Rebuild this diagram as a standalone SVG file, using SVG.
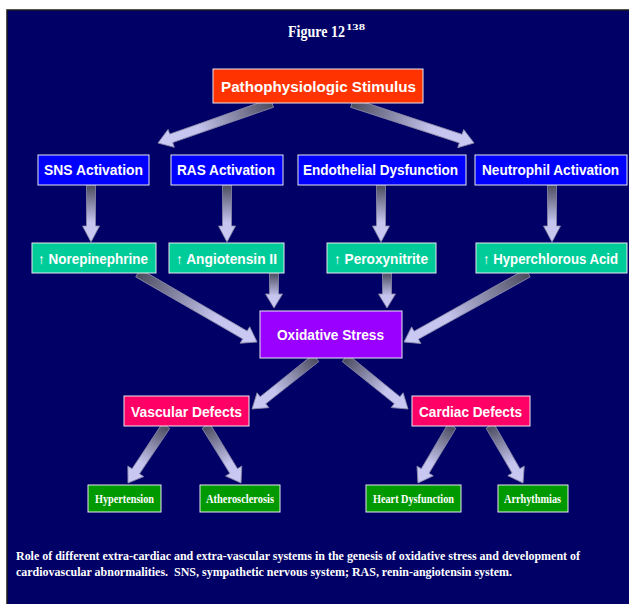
<svg xmlns="http://www.w3.org/2000/svg" width="629" height="604" viewBox="0 0 629 604">
<style>
.box{stroke:#e8e8f0;stroke-width:1}
.lbl{font-family:"Liberation Sans",Arial,sans-serif;font-weight:bold;font-size:14px;fill:#fff}
.slbl{font-family:"Liberation Serif","Times New Roman",serif;font-weight:bold;font-size:13px;fill:#fff}
.arr{fill:url(#ag);stroke:#8a8aa8;stroke-width:0.8}
</style>
<defs>
<linearGradient id="ag" x1="0" y1="0" x2="1" y2="0">
<stop offset="0" stop-color="#4a4a5e"/>
<stop offset="0.65" stop-color="#c4c4ee"/>
<stop offset="1" stop-color="#cacaf4"/>
</linearGradient>
</defs>
<rect x="0" y="0" width="629" height="604" fill="#fff"/>
<rect x="7" y="10" width="623" height="596" fill="#000066" stroke="#1a1a1a" stroke-width="1.5"/>
<text x="288" y="37" font-family="Liberation Serif,'Times New Roman',serif" font-weight="bold" font-size="17" fill="#fff"><tspan textLength="57" lengthAdjust="spacingAndGlyphs">Figure 12</tspan><tspan x="346" y="30" font-size="9" textLength="19" lengthAdjust="spacingAndGlyphs">138</tspan></text>
<g id="connectors">
<path class="arr" transform="translate(272,103) rotate(160.67)" d="M0,-4.5 L106.8,-4.5 L106.8,-9.5 L120.8,0 L106.8,9.5 L106.8,4.5 L0,4.5 Z"/>
<path class="arr" transform="translate(352,103) rotate(18.15)" d="M0,-4.5 L114.4,-4.5 L114.4,-9.5 L128.4,0 L114.4,9.5 L114.4,4.5 L0,4.5 Z"/>
<path class="arr" transform="translate(91,185) rotate(90)" d="M0,-4.5 L41,-4.5 L41,-8.5 L57,0 L41,8.5 L41,4.5 L0,4.5 Z"/>
<path class="arr" transform="translate(227,185) rotate(90)" d="M0,-4.5 L41,-4.5 L41,-8.5 L57,0 L41,8.5 L41,4.5 L0,4.5 Z"/>
<path class="arr" transform="translate(381,185) rotate(90)" d="M0,-4.5 L41,-4.5 L41,-8.5 L57,0 L41,8.5 L41,4.5 L0,4.5 Z"/>
<path class="arr" transform="translate(552,185) rotate(90)" d="M0,-4.5 L41,-4.5 L41,-8.5 L57,0 L41,8.5 L41,4.5 L0,4.5 Z"/>
<path class="arr" transform="translate(138,273) rotate(30.1)" d="M0,-4.5 L123.6,-4.5 L123.6,-9.5 L137.6,0 L123.6,9.5 L123.6,4.5 L0,4.5 Z"/>
<path class="arr" transform="translate(274,273) rotate(90)" d="M0,-4.5 L21,-4.5 L21,-8.5 L35,0 L21,8.5 L21,4.5 L0,4.5 Z"/>
<path class="arr" transform="translate(387,273) rotate(90)" d="M0,-4.5 L21,-4.5 L21,-8.5 L35,0 L21,8.5 L21,4.5 L0,4.5 Z"/>
<path class="arr" transform="translate(528,273) rotate(150.9)" d="M0,-4.5 L127.9,-4.5 L127.9,-9.5 L141.9,0 L127.9,9.5 L127.9,4.5 L0,4.5 Z"/>
<path class="arr" transform="translate(316,358) rotate(141.45)" d="M0,-4.5 L67.8,-4.5 L67.8,-9.5 L81.8,0 L67.8,9.5 L67.8,4.5 L0,4.5 Z"/>
<path class="arr" transform="translate(345,358) rotate(38.99)" d="M0,-4.5 L67.1,-4.5 L67.1,-9.5 L81.1,0 L67.1,9.5 L67.1,4.5 L0,4.5 Z"/>
<path class="arr" transform="translate(166,426) rotate(123.69)" d="M0,-4.5 L54.5,-4.5 L54.5,-9.5 L68.5,0 L54.5,9.5 L54.5,4.5 L0,4.5 Z"/>
<path class="arr" transform="translate(206,426) rotate(58.45)" d="M0,-4.5 L52.9,-4.5 L52.9,-9.5 L66.9,0 L52.9,9.5 L52.9,4.5 L0,4.5 Z"/>
<path class="arr" transform="translate(452,426) rotate(120.82)" d="M0,-4.5 L52.4,-4.5 L52.4,-9.5 L66.4,0 L52.4,9.5 L52.4,4.5 L0,4.5 Z"/>
<path class="arr" transform="translate(490,426) rotate(59.93)" d="M0,-4.5 L51.9,-4.5 L51.9,-9.5 L65.9,0 L51.9,9.5 L51.9,4.5 L0,4.5 Z"/>
</g>
<g id="stimulus"><rect class="box" x="213" y="69" width="210" height="34" fill="#ff3300"/><text class="lbl" x="221" y="92" font-size="16" textLength="195" lengthAdjust="spacingAndGlyphs">Pathophysiologic Stimulus</text></g>
<g id="sns"><rect class="box" x="38" y="155" width="111" height="30" fill="#0000ff"/><text class="lbl" x="44" y="175" textLength="99" lengthAdjust="spacingAndGlyphs">SNS Activation</text></g>
<g id="ras"><rect class="box" x="171" y="155" width="112" height="30" fill="#0000ff"/><text class="lbl" x="177" y="175" textLength="98" lengthAdjust="spacingAndGlyphs">RAS Activation</text></g>
<g id="endothelial"><rect class="box" x="298" y="155" width="168" height="30" fill="#0000ff"/><text class="lbl" x="303" y="175" textLength="155" lengthAdjust="spacingAndGlyphs">Endothelial Dysfunction</text></g>
<g id="neutrophil"><rect class="box" x="475" y="155" width="152" height="30" fill="#0000ff"/><text class="lbl" x="482" y="175" textLength="137" lengthAdjust="spacingAndGlyphs">Neutrophil Activation</text></g>
<g id="norepinephrine"><rect class="box" x="32" y="243" width="124" height="30" fill="#00cc99"/><text class="lbl" x="38" y="264" textLength="110" lengthAdjust="spacingAndGlyphs">↑ Norepinephrine</text></g>
<g id="angiotensin"><rect class="box" x="169" y="243" width="115" height="30" fill="#00cc99"/><text class="lbl" x="176" y="264" textLength="101" lengthAdjust="spacingAndGlyphs">↑ Angiotensin II</text></g>
<g id="peroxynitrite"><rect class="box" x="327" y="243" width="109" height="30" fill="#00cc99"/><text class="lbl" x="334" y="264" textLength="94" lengthAdjust="spacingAndGlyphs">↑ Peroxynitrite</text></g>
<g id="hyperchlorous"><rect class="box" x="476" y="243" width="151" height="30" fill="#00cc99"/><text class="lbl" x="483" y="264" textLength="135" lengthAdjust="spacingAndGlyphs">↑ Hyperchlorous Acid</text></g>
<g id="oxidative"><rect class="box" x="260" y="311" width="142" height="47" fill="#9900ff"/><text class="lbl" x="277" y="340" font-size="15" textLength="107" lengthAdjust="spacingAndGlyphs">Oxidative Stress</text></g>
<g id="vascular"><rect class="box" x="124" y="396" width="125" height="30" fill="#ff0066"/><text class="lbl" x="131" y="417" textLength="111" lengthAdjust="spacingAndGlyphs">Vascular Defects</text></g>
<g id="cardiac"><rect class="box" x="412" y="396" width="118" height="30" fill="#ff0066"/><text class="lbl" x="419" y="417" textLength="103" lengthAdjust="spacingAndGlyphs">Cardiac Defects</text></g>
<g id="hypertension"><rect class="box" x="88" y="485" width="73" height="27" fill="#009900"/><text class="slbl" x="95" y="503" textLength="59" lengthAdjust="spacingAndGlyphs">Hypertension</text></g>
<g id="atherosclerosis"><rect class="box" x="200" y="485" width="80" height="27" fill="#009900"/><text class="slbl" x="206" y="503" textLength="68" lengthAdjust="spacingAndGlyphs">Atherosclerosis</text></g>
<g id="heart"><rect class="box" x="366" y="485" width="95" height="27" fill="#009900"/><text class="slbl" x="373" y="503" textLength="81" lengthAdjust="spacingAndGlyphs">Heart Dysfunction</text></g>
<g id="arrhythmias"><rect class="box" x="498" y="485" width="70" height="27" fill="#009900"/><text class="slbl" x="504" y="503" textLength="57" lengthAdjust="spacingAndGlyphs">Arrhythmias</text></g>
<text class="slbl" x="16" y="560" font-size="14" textLength="564" lengthAdjust="spacingAndGlyphs">Role of different extra-cardiac and extra-vascular systems in the genesis of oxidative stress and development of</text>
<text class="slbl" x="16" y="576" font-size="14" xml:space="preserve" textLength="496" lengthAdjust="spacingAndGlyphs">cardiovascular abnormalities.  SNS, sympathetic nervous system; RAS, renin-angiotensin system.</text>
</svg>
